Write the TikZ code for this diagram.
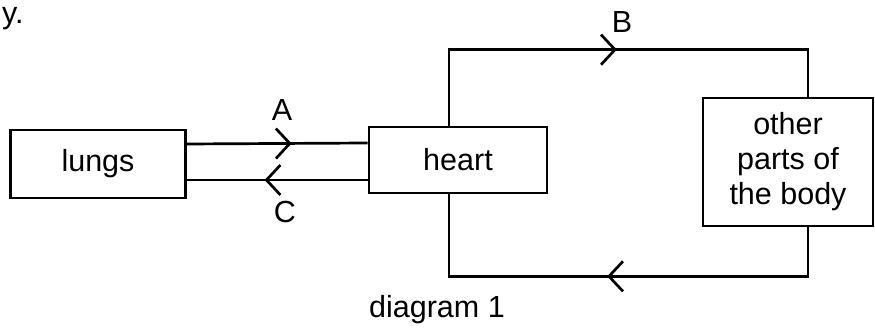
\documentclass[tikz,border=0pt]{standalone}
\usepackage{fontspec}
\setmainfont{Liberation Sans}
\usetikzlibrary{arrows.meta, decorations.markings}

\tikzset{
  organ/.style={draw, line width=2.7pt, inner sep=0pt, align=center, font=\fontsize{30.5}{35}\selectfont},
  vessel/.style={line width=2.7pt, line join=miter},
  flowmark/.style={postaction={decorate}, decoration={markings,
      mark=at position #1 with {\arrow[line width=2.7pt]{Straight Barb[length=14pt,width=30pt]}}}},
  tag/.style={inner sep=0pt, font=\fontsize{30.5}{35}\selectfont}
}

\begin{document}
\begin{tikzpicture}[x=1pt, y=1pt]
    \useasboundingbox (0,0) rectangle (875,329);
    % organs
    \node[organ, minimum width=175pt, minimum height=68pt] (lungs) at (98,165) {lungs};
    \node[organ, minimum width=178pt, minimum height=66pt] (heart) at (458,169) {heart};
    \node[organ, minimum width=170pt, minimum height=128pt] (body) at (788,167) {other\\parts of\\the body};
    % vessels
    \draw[vessel, flowmark=0.58] ([yshift=20pt]lungs.east) -- ([yshift=17pt]heart.west);
    \draw[vessel, flowmark=0.57] ([yshift=-20pt]heart.west) -- ([yshift=-16pt]lungs.east);
    \draw[vessel, flowmark=0.506] ([xshift=-9pt]heart.north) -- ++(0,76) -| ([xshift=20pt]body.north);
    \draw[vessel, flowmark=0.51] ([xshift=20pt]body.south) -- ++(0,-49) -| ([xshift=-9pt]heart.south);
    % labels
    \node[tag] (labA) at (282,219) {A};
    \node[tag] (labB) at (622,307) {B};
    \node[tag] (labC) at (285,117) {C};
    \node[tag] (caption) at (437,19) {diagram 1};
    \node[tag, anchor=base west] (cut) at (2,305) {y.};
\end{tikzpicture}
\end{document}
